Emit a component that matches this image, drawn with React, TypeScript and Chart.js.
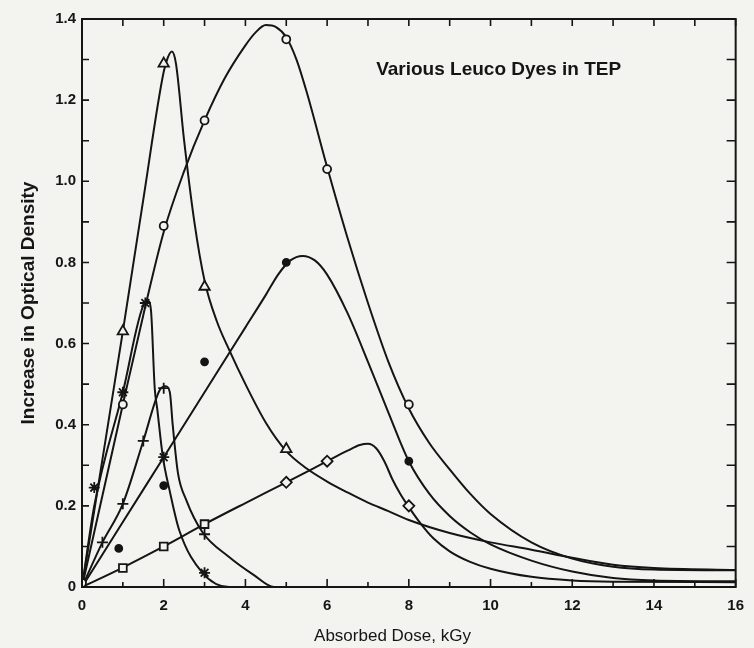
import React, { useEffect, useRef } from "react";
import { Chart, registerables } from "chart.js";

Chart.register(...registerables);

// ---------------- Data ----------------
// Axis ticks
const xTickLabels = [0, 2, 4, 6, 8, 10, 12, 14, 16];
const xMinorTicks = [1, 3, 5, 7, 9, 11, 13, 15];
const yTickValues = [0, 0.1, 0.2, 0.3, 0.4, 0.5, 0.6, 0.7, 0.8, 0.9, 1.0, 1.1, 1.2, 1.3, 1.4];

// Open triangles
const triCurveX = [0, 1, 1.5, 2, 2.1, 2.2, 2.3, 2.5, 2.75, 3, 3.3, 3.6, 4, 4.5, 5, 5.5, 6, 6.5, 7, 7.5, 8, 9, 10, 11, 12, 13, 14, 16];
const triCurveY = [0, 0.63, 0.955, 1.27, 1.305, 1.32, 1.29, 1.1, 0.9, 0.755, 0.655, 0.585, 0.5, 0.405, 0.335, 0.292, 0.26, 0.233, 0.208, 0.187, 0.165, 0.133, 0.11, 0.092, 0.072, 0.055, 0.047, 0.042];
const triMarkX = [1, 2, 3, 5];
const triMarkY = [0.63, 1.29, 0.74, 0.34];

// Open circles
const circCurveX = [0, 1, 1.5, 2, 2.5, 3, 3.5, 4, 4.25, 4.5, 4.75, 5, 5.25, 5.5, 6, 6.5, 7, 7.5, 8, 8.5, 9, 9.5, 10, 11, 12, 13, 14, 16];
const circCurveY = [0, 0.45, 0.67, 0.875, 1.025, 1.15, 1.255, 1.335, 1.367, 1.385, 1.38, 1.355, 1.3, 1.22, 1.035, 0.86, 0.7, 0.555, 0.44, 0.355, 0.29, 0.23, 0.18, 0.11, 0.07, 0.05, 0.043, 0.041];
const circMarkX = [0, 1, 2, 3, 5, 6, 8];
const circMarkY = [0.01, 0.45, 0.89, 1.15, 1.35, 1.03, 0.45];

// Filled circles
const dotCurveX = [0, 1, 2, 3, 3.5, 4, 4.5, 4.8, 5.1, 5.4, 5.7, 6, 6.5, 7, 7.5, 8, 8.5, 9, 9.5, 10, 11, 12, 13, 14, 16];
const dotCurveY = [0, 0.16, 0.32, 0.48, 0.56, 0.64, 0.72, 0.77, 0.805, 0.816, 0.805, 0.77, 0.675, 0.555, 0.43, 0.31, 0.23, 0.175, 0.135, 0.105, 0.065, 0.038, 0.022, 0.016, 0.014];
const dotMarkX = [0, 0.9, 2, 3, 5, 8];
const dotMarkY = [0, 0.095, 0.25, 0.555, 0.8, 0.31];

// Open squares
const sqCurveX = [0, 1, 2, 3, 4, 5, 6, 6.5, 6.8, 7.0, 7.2, 7.4, 7.6, 7.8, 8, 8.3, 8.6, 9, 9.5, 10, 11, 12, 13, 16];
const sqCurveY = [0, 0.048, 0.1, 0.155, 0.207, 0.258, 0.31, 0.336, 0.35, 0.353, 0.342, 0.31, 0.265, 0.228, 0.197, 0.155, 0.12, 0.088, 0.062, 0.045, 0.025, 0.016, 0.013, 0.012];
const sqMarkX = [1, 2, 3, 5, 6, 8];
const sqMarkY = [0.047, 0.1, 0.155, 0.258, 0.31, 0.2];

// Plus signs
const plusCurveX = [0, 0.5, 1, 1.5, 1.9, 2.05, 2.15, 2.22, 2.35, 2.55, 2.95, 3.6, 4.2, 4.7, 6.5];
const plusCurveY = [0, 0.11, 0.205, 0.36, 0.485, 0.495, 0.48, 0.4, 0.28, 0.215, 0.135, 0.074, 0.03, 0, 0];
const plusMarkX = [0.5, 1, 1.5, 2, 3];
const plusMarkY = [0.11, 0.205, 0.36, 0.49, 0.13];

// Stars
const starCurveX = [0, 0.3, 1, 1.53, 1.62, 1.69, 1.78, 1.84, 1.98, 2.14, 2.38, 2.95, 3.6, 6.5];
const starCurveY = [0, 0.2, 0.48, 0.7, 0.705, 0.68, 0.49, 0.44, 0.32, 0.24, 0.14, 0.035, 0, 0];
const starMarkX = [0.3, 1, 1.55, 2, 3];
const starMarkY = [0.245, 0.48, 0.7, 0.32, 0.035];

const annotationText = "Various Leuco Dyes in TEP";
const xTitle = "Absorbed Dose, kGy";
const yTitle = "Increase in Optical Density";

// ---------------- Styling ----------------
const INK = "#151515";
const PAPER = "#f3f3f0";
const FONT = '"Liberation Sans", Arial, Helvetica, sans-serif';

const toPts = (xs: number[], ys: number[]) => xs.map((x, i) => ({ x, y: ys[i] }));

const curve = (xs: number[], ys: number[]) => ({
  type: "scatter" as const,
  data: toPts(xs, ys),
  showLine: true,
  borderColor: INK,
  borderWidth: 2,
  pointRadius: 0,
  cubicInterpolationMode: "monotone" as const,
  order: 2,
});

const markers = (xs: number[], ys: number[], style: any, radius: number, filled: boolean) => ({
  type: "scatter" as const,
  data: toPts(xs, ys),
  showLine: false,
  pointStyle: style,
  pointRadius: radius,
  pointBorderWidth: 1.8,
  pointBorderColor: INK,
  pointBackgroundColor: filled ? INK : PAPER,
  order: 1,
});

const framePlugin = {
  id: "framePlugin",
  beforeDraw(chart: any) {
    const { ctx, width, height } = chart;
    ctx.save();
    ctx.fillStyle = PAPER;
    ctx.fillRect(0, 0, width, height);
    ctx.restore();
  },
  afterDraw(chart: any) {
    const { ctx, chartArea, scales } = chart;
    const { left, right, top, bottom } = chartArea;
    const xs = scales.x;
    const ys = scales.y;
    ctx.save();
    ctx.strokeStyle = INK;
    ctx.lineWidth = 2;
    ctx.strokeRect(left, top, right - left, bottom - top);
    ctx.lineWidth = 1.6;
    ctx.beginPath();
    for (const v of xTickLabels) {
      const px = xs.getPixelForValue(v);
      ctx.moveTo(px, bottom);
      ctx.lineTo(px, bottom - 8);
      ctx.moveTo(px, top);
      ctx.lineTo(px, top + 7);
    }
    for (const v of xMinorTicks) {
      const px = xs.getPixelForValue(v);
      ctx.moveTo(px, bottom);
      ctx.lineTo(px, bottom - 5);
      ctx.moveTo(px, top);
      ctx.lineTo(px, top + 7);
    }
    for (const v of yTickValues) {
      const py = ys.getPixelForValue(v);
      ctx.moveTo(left, py);
      ctx.lineTo(left + 7, py);
      ctx.moveTo(right, py);
      ctx.lineTo(right - 9, py);
    }
    ctx.stroke();

    ctx.fillStyle = INK;
    ctx.font = `bold 19px ${FONT}`;
    ctx.textAlign = "left";
    ctx.textBaseline = "alphabetic";
    ctx.fillText(annotationText, xs.getPixelForValue(7.2), ys.getPixelForValue(1.262));

    // x-axis title (slightly left of centre, as in the reference)
    ctx.font = `17px ${FONT}`;
    ctx.textAlign = "center";
    ctx.textBaseline = "middle";
    ctx.fillText(xTitle, xs.getPixelForValue(7.6), 636);
    ctx.restore();
  },
};

export default function App() {
  const canvasRef = useRef<HTMLCanvasElement | null>(null);

  useEffect(() => {
    if (!canvasRef.current) return;
    const chart = new Chart(canvasRef.current, {
      type: "scatter",
      data: {
        datasets: [
          curve(triCurveX, triCurveY),
          curve(circCurveX, circCurveY),
          curve(dotCurveX, dotCurveY),
          curve(sqCurveX, sqCurveY),
          curve(plusCurveX, plusCurveY),
          curve(starCurveX, starCurveY),
          markers(triMarkX, triMarkY, "triangle", 6, false),
          markers(circMarkX, circMarkY, "circle", 4, false),
          markers(dotMarkX, dotMarkY, "circle", 3.5, true),
          markers(sqMarkX, sqMarkY, ["rect", "rect", "rect", "rectRot", "rectRot", "rectRot"], 5.5, false),
          markers(plusMarkX, plusMarkY, "cross", 5.5, false),
          markers(starMarkX, starMarkY, "star", 5.5, false),
        ] as any,
      },
      options: {
        animation: false,
        responsive: true,
        maintainAspectRatio: false,
        events: [],
        layout: { padding: { top: 19, right: 14, left: 0, bottom: 0 } },
        plugins: {
          legend: { display: false },
          tooltip: { enabled: false },
          title: { display: false },
        },
        scales: {
          x: {
            type: "linear",
            min: 0,
            max: 16,
            afterFit: (s: any) => {
              s.height = 61;
            },
            grid: { display: false, drawTicks: false },
            border: { display: false },
            ticks: {
              stepSize: 2,
              autoSkip: false,
              maxRotation: 0,
              padding: 10,
              color: INK,
              font: { family: FONT, size: 15, weight: "bold" },
              callback: (v: any) => String(v),
            },
            title: { display: false },
          },
          y: {
            type: "linear",
            min: 0,
            max: 1.4,
            afterFit: (s: any) => {
              s.width = 82;
            },
            grid: { display: false, drawTicks: false },
            border: { display: false },
            ticks: {
              stepSize: 0.2,
              autoSkip: false,
              padding: 6,
              color: INK,
              font: { family: FONT, size: 15, weight: "bold" },
              callback: (v: any) => (Number(v) === 0 ? "0" : Number(v).toFixed(1)),
            },
            title: {
              display: true,
              text: yTitle,
              color: INK,
              font: { family: FONT, size: 19, weight: "bold" },
              padding: { top: 17, bottom: 0 },
            },
          },
        },
      } as any,
      plugins: [framePlugin],
    });
    return () => chart.destroy();
  }, []);

  return (
    <div style={{ position: "fixed", left: 0, top: 0, width: 754, height: 648 }}>
      <canvas ref={canvasRef} />
    </div>
  );
}
